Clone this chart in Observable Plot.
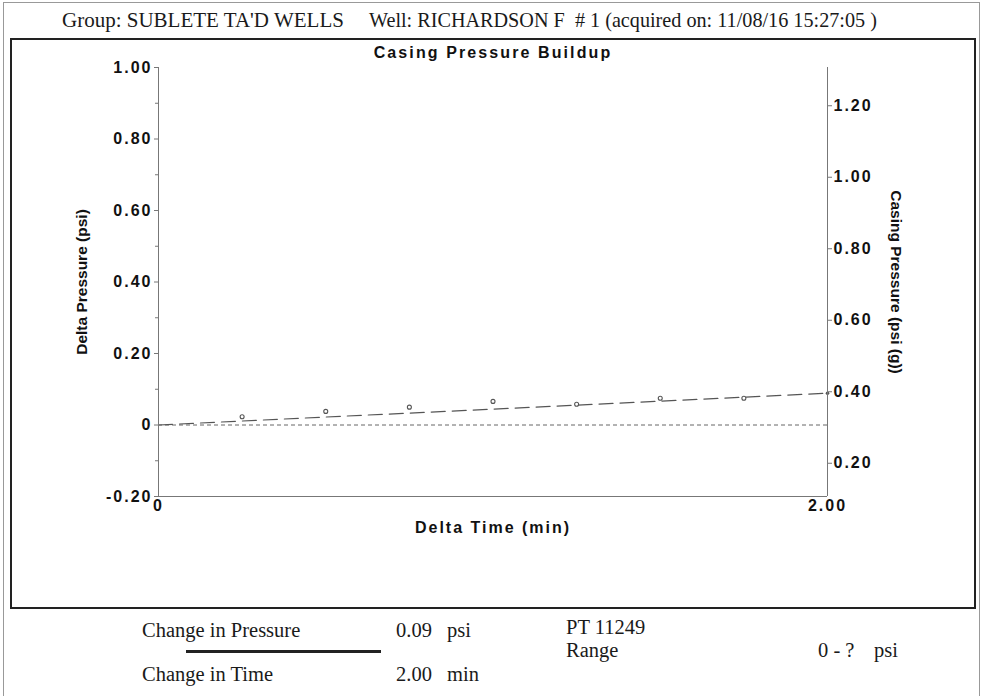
<!DOCTYPE html>
<html>
<head>
<meta charset="utf-8">
<script src="https://cdn.jsdelivr.net/npm/d3@7"></script>
<script src="https://cdn.jsdelivr.net/npm/@observablehq/plot@0.6"></script>
<style>
  html, body { margin: 0; padding: 0; background: #fff; }
  #page { position: relative; width: 983px; height: 696px; overflow: hidden; background: #fff; }
  #outer { position: absolute; left: 3px; top: 2px; width: 975px; height: 700px; border: 1px solid #999; }
  #box { position: absolute; left: 10px; top: 38px; width: 962px; height: 567px; border: 2px solid #222; }
  #chart { position: absolute; left: 10px; top: 40px; }
  .serif { position: absolute; font-family: "Liberation Serif", "Times New Roman", serif; font-size: 20.5px; color: #1a1a1a; white-space: pre; line-height: 20.5px; }
  #uline { position: absolute; left: 186px; top: 650px; width: 195px; height: 3px; background: #222; }
</style>
</head>
<body>
<div id="page">
  <div id="outer"></div>
  <div class="serif" style="left:62px; top:10px; font-size:21px;">Group: SUBLETE TA'D WELLS</div>
  <div class="serif" style="left:369px; top:10px; font-size:20.2px;">Well: RICHARDSON F  # 1 (acquired on: 11/08/16 15:27:05 )</div>
  <div id="box"></div>
  <div id="chart"></div>
  <div class="serif" style="left:142px; top:620px;">Change in Pressure</div>
  <div class="serif" style="left:396px; top:620px;">0.09</div>
  <div class="serif" style="left:447px; top:620px;">psi</div>
  <div class="serif" style="left:566px; top:617px;">PT 11249</div>
  <div id="uline"></div>
  <div class="serif" style="left:566px; top:640px;">Range</div>
  <div class="serif" style="left:818px; top:640px;">0 - ?</div>
  <div class="serif" style="left:874px; top:640px;">psi</div>
  <div class="serif" style="left:142px; top:664px;">Change in Time</div>
  <div class="serif" style="left:396px; top:664px;">2.00</div>
  <div class="serif" style="left:447px; top:664px;">min</div>
</div>
<script>
// Data
const deltaTime = [0.25, 0.5, 0.75, 1.0, 1.25, 1.5, 1.75];
const deltaPressure = [0.023, 0.038, 0.050, 0.066, 0.058, 0.075, 0.075];
const trendTime = [0, 2];
const trendPressure = [0, 0.089];
const casingOffset = 0.307; // casing pressure at delta = 0
const leftTicks = [-0.2, 0, 0.2, 0.4, 0.6, 0.8, 1.0];
const leftMinorTicks = [-0.1, 0.1, 0.3, 0.5, 0.7, 0.9];
const rightTicks = [0.20, 0.40, 0.60, 0.80, 1.00, 1.20];
const xTicks = [0, 2];

const points = deltaTime.map((t, i) => ({t, p: deltaPressure[i]}));
const trend = trendTime.map((t, i) => ({t, p: trendPressure[i]}));

const axisColor = "#777";
const font = "Liberation Sans, Arial, sans-serif";

const chart = Plot.plot({
  width: 965,
  height: 567,
  marginLeft: 148,
  marginRight: 148,
  marginTop: 27,
  marginBottom: 111,
  style: {fontFamily: font, fontSize: "13px", color: "#111", background: "transparent"},
  x: {domain: [0, 2]},
  y: {domain: [-0.2, 1.0]},
  marks: [
    Plot.ruleY([0], {stroke: "#666", strokeDasharray: "4,3", strokeWidth: 1}),
    Plot.line(trend, {x: "t", y: "p", stroke: "#555", strokeWidth: 1.2, strokeDasharray: "14,7"}),
    Plot.dot(trend.slice(1), {x: "t", y: "p", r: 1.8, fill: "#555"}),
    Plot.dot(points, {x: "t", y: "p", r: 2, stroke: "#555", fill: "white", strokeWidth: 1.1}),
    Plot.ruleX([0, 2], {stroke: axisColor}),
    Plot.ruleY([-0.2], {stroke: axisColor}),
    Plot.axisY(leftTicks, {anchor: "left", tickSize: 4, tickPadding: 2, stroke: axisColor,
      tickFormat: d => d === 0 ? "0" : d.toFixed(2), fontWeight: "bold", fontSize: 16, fill: "#111", label: null}),
    Plot.axisY(leftMinorTicks, {anchor: "left", tickSize: 3, stroke: axisColor, tickFormat: () => "", label: null}),
    Plot.axisY(rightTicks.map(r => r - casingOffset), {anchor: "right", tickSize: 4, tickPadding: 2, stroke: axisColor,
      tickFormat: d => (d + casingOffset).toFixed(2), fontWeight: "bold", fontSize: 16, fill: "#111", label: null}),
    Plot.axisX(xTicks, {anchor: "bottom", tickSize: 0, tickPadding: 3,
      tickFormat: d => d === 0 ? "0" : d.toFixed(2), fontWeight: "bold", fontSize: 16, fill: "#111", label: null}),
    Plot.text(["Casing Pressure Buildup"], {frameAnchor: "top", textAnchor: "middle", lineAnchor: "middle", dy: -15, fontWeight: "bold", fontSize: 16, fill: "#111"}),
    Plot.text(["Delta Time (min)"], {frameAnchor: "bottom", textAnchor: "middle", lineAnchor: "middle", dy: 31, fontWeight: "bold", fontSize: 16, fill: "#111"}),
    Plot.text(["Delta Pressure (psi)"], {frameAnchor: "left", textAnchor: "middle", dx: -76, rotate: -90, fontWeight: "bold", fontSize: 15.5, fill: "#111"}),
    Plot.text(["Casing Pressure (psi (g))"], {frameAnchor: "right", textAnchor: "middle", dx: 68, rotate: 90, fontWeight: "bold", fontSize: 15.5, fill: "#111"})
  ]
});
document.getElementById("chart").appendChild(chart);

// letter spacing to match the wide lettering of the original
d3.select(chart).selectAll("text").each(function() {
  const s = this.textContent;
  if (s === "Casing Pressure Buildup") this.setAttribute("letter-spacing", "2.1px");
  else if (s === "Delta Time (min)") this.setAttribute("letter-spacing", "2px");
  else if (/^-?\d/.test(s)) this.setAttribute("letter-spacing", "2px");
});
</script>
</body>
</html>
